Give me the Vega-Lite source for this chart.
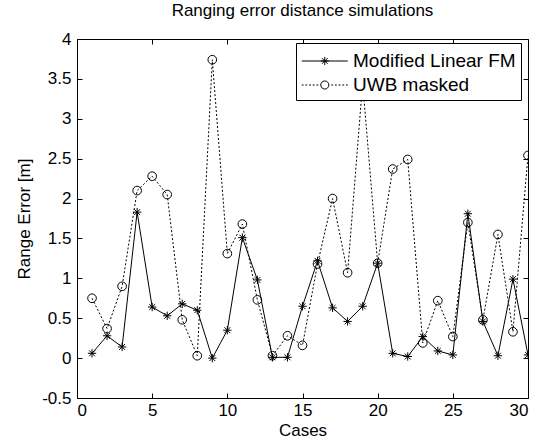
{
  "$schema": "https://vega.github.io/schema/vega-lite/v6.json",
  "width": 451,
  "height": 359,
  "autosize": "none",
  "padding": {"left": 77, "top": 39, "right": 22, "bottom": 44},
  "background": "white",
  "title": {"text": "Ranging error distance simulations", "font": "Liberation Sans", "fontSize": 17, "fontWeight": "normal", "color": "black", "offset": 10},
  "config": {
    "view": {"stroke": "black", "strokeWidth": 1},
    "axis": {"grid": false, "domainColor": "black", "tickColor": "black", "labelColor": "black", "titleColor": "black", "labelFont": "Liberation Sans", "titleFont": "Liberation Sans", "labelFontSize": 17, "titleFontSize": 17, "titleFontWeight": "normal", "tickSize": 5, "domainWidth": 1, "tickWidth": 1}
  },
  "data": {"values": [
    {"case": 1, "series": "Modified Linear FM", "value": 0.06},
    {"case": 2, "series": "Modified Linear FM", "value": 0.28},
    {"case": 3, "series": "Modified Linear FM", "value": 0.14},
    {"case": 4, "series": "Modified Linear FM", "value": 1.83},
    {"case": 5, "series": "Modified Linear FM", "value": 0.64},
    {"case": 6, "series": "Modified Linear FM", "value": 0.53},
    {"case": 7, "series": "Modified Linear FM", "value": 0.68},
    {"case": 8, "series": "Modified Linear FM", "value": 0.60},
    {"case": 9, "series": "Modified Linear FM", "value": 0.00},
    {"case": 10, "series": "Modified Linear FM", "value": 0.35},
    {"case": 11, "series": "Modified Linear FM", "value": 1.51},
    {"case": 12, "series": "Modified Linear FM", "value": 0.98},
    {"case": 13, "series": "Modified Linear FM", "value": 0.01},
    {"case": 14, "series": "Modified Linear FM", "value": 0.01},
    {"case": 15, "series": "Modified Linear FM", "value": 0.65},
    {"case": 16, "series": "Modified Linear FM", "value": 1.22},
    {"case": 17, "series": "Modified Linear FM", "value": 0.63},
    {"case": 18, "series": "Modified Linear FM", "value": 0.46},
    {"case": 19, "series": "Modified Linear FM", "value": 0.65},
    {"case": 20, "series": "Modified Linear FM", "value": 1.19},
    {"case": 21, "series": "Modified Linear FM", "value": 0.06},
    {"case": 22, "series": "Modified Linear FM", "value": 0.02},
    {"case": 23, "series": "Modified Linear FM", "value": 0.27},
    {"case": 24, "series": "Modified Linear FM", "value": 0.09},
    {"case": 25, "series": "Modified Linear FM", "value": 0.04},
    {"case": 26, "series": "Modified Linear FM", "value": 1.81},
    {"case": 27, "series": "Modified Linear FM", "value": 0.46},
    {"case": 28, "series": "Modified Linear FM", "value": 0.03},
    {"case": 29, "series": "Modified Linear FM", "value": 0.99},
    {"case": 30, "series": "Modified Linear FM", "value": 0.04},
    {"case": 1, "series": "UWB masked", "value": 0.75},
    {"case": 2, "series": "UWB masked", "value": 0.37},
    {"case": 3, "series": "UWB masked", "value": 0.90},
    {"case": 4, "series": "UWB masked", "value": 2.10},
    {"case": 5, "series": "UWB masked", "value": 2.28},
    {"case": 6, "series": "UWB masked", "value": 2.05},
    {"case": 7, "series": "UWB masked", "value": 0.48},
    {"case": 8, "series": "UWB masked", "value": 0.03},
    {"case": 9, "series": "UWB masked", "value": 3.74},
    {"case": 10, "series": "UWB masked", "value": 1.31},
    {"case": 11, "series": "UWB masked", "value": 1.68},
    {"case": 12, "series": "UWB masked", "value": 0.73},
    {"case": 13, "series": "UWB masked", "value": 0.03},
    {"case": 14, "series": "UWB masked", "value": 0.28},
    {"case": 15, "series": "UWB masked", "value": 0.16},
    {"case": 16, "series": "UWB masked", "value": 1.18},
    {"case": 17, "series": "UWB masked", "value": 2.00},
    {"case": 18, "series": "UWB masked", "value": 1.07},
    {"case": 19, "series": "UWB masked", "value": 3.45},
    {"case": 20, "series": "UWB masked", "value": 1.19},
    {"case": 21, "series": "UWB masked", "value": 2.37},
    {"case": 22, "series": "UWB masked", "value": 2.49},
    {"case": 23, "series": "UWB masked", "value": 0.19},
    {"case": 24, "series": "UWB masked", "value": 0.72},
    {"case": 25, "series": "UWB masked", "value": 0.27},
    {"case": 26, "series": "UWB masked", "value": 1.70},
    {"case": 27, "series": "UWB masked", "value": 0.48},
    {"case": 28, "series": "UWB masked", "value": 1.55},
    {"case": 29, "series": "UWB masked", "value": 0.33},
    {"case": 30, "series": "UWB masked", "value": 2.54}
  ]},
  "resolve": {"axis": {"x": "independent", "y": "independent"}},
  "layer": [
    {
      "transform": [{"filter": "datum.series === 'Modified Linear FM'"}],
      "mark": {"type": "line", "color": "black", "strokeWidth": 1, "clip": true},
      "encoding": {
        "x": {"field": "case", "type": "quantitative", "scale": {"domain": [0, 30], "nice": false}, "axis": {"values": [0, 5, 10, 15, 20, 25, 30], "ticks": false, "title": "Cases", "labelPadding": 4, "titlePadding": 4}},
        "y": {"field": "value", "type": "quantitative", "scale": {"domain": [-0.5, 4], "nice": false, "zero": false}, "axis": {"values": [-0.5, 0, 0.5, 1, 1.5, 2, 2.5, 3, 3.5, 4], "ticks": false, "labelExpr": "'' + datum.value", "title": "Range Error [m]", "labelPadding": 6, "titlePadding": 8}}
      }
    },
    {
      "transform": [{"filter": "datum.series === 'UWB masked'"}],
      "mark": {"type": "line", "color": "black", "strokeWidth": 1, "strokeDash": [2, 2], "clip": true},
      "encoding": {
        "x": {"field": "case", "type": "quantitative", "axis": null},
        "y": {"field": "value", "type": "quantitative", "axis": null}
      }
    },
    {
      "transform": [{"filter": "datum.series === 'Modified Linear FM'"}],
      "mark": {"type": "point", "filled": false, "color": "black", "strokeWidth": 1, "opacity": 1, "size": 70, "shape": "M-1,0L1,0M0,-1L0,1M-0.7,-0.7L0.7,0.7M-0.7,0.7L0.7,-0.7", "clip": true},
      "encoding": {
        "x": {"field": "case", "type": "quantitative", "axis": {"orient": "bottom", "offset": -5, "domain": false, "values": [0, 5, 10, 15, 20, 25, 30], "labels": false, "title": null}},
        "y": {"field": "value", "type": "quantitative", "axis": {"orient": "left", "offset": -5, "domain": false, "values": [-0.5, 0, 0.5, 1, 1.5, 2, 2.5, 3, 3.5, 4], "labels": false, "title": null}}
      }
    },
    {
      "transform": [{"filter": "datum.series === 'UWB masked'"}],
      "mark": {"type": "point", "filled": false, "color": "black", "strokeWidth": 1, "opacity": 1, "size": 75, "shape": "circle", "clip": true},
      "encoding": {
        "x": {"field": "case", "type": "quantitative", "axis": {"orient": "top", "offset": -5, "domain": false, "values": [0, 5, 10, 15, 20, 25, 30], "labels": false, "title": null}},
        "y": {"field": "value", "type": "quantitative", "axis": {"orient": "right", "offset": -5, "domain": false, "values": [-0.5, 0, 0.5, 1, 1.5, 2, 2.5, 3, 3.5, 4], "labels": false, "title": null}}
      }
    },
    {
      "mark": {"type": "point", "filled": false, "color": "black", "strokeWidth": 1, "size": 0},
      "encoding": {
        "x": {"field": "case", "type": "quantitative", "axis": null},
        "y": {"field": "value", "type": "quantitative", "axis": null},
        "shape": {"field": "series", "type": "nominal", "scale": {"domain": ["Modified Linear FM", "UWB masked"], "range": [
            "M-1,0L2.76,0M0.88,-0.33L0.88,0.33M0.55,0L1.21,0M0.65,-0.23L1.11,0.23M0.65,0.23L1.11,-0.23",
            "M-1,0L-0.85,0M-0.7,0L-0.55,0M-0.4,0L-0.25,0M-0.1,0L0.05,0M0.2,0L0.35,0M1.41,0L1.56,0M1.71,0L1.86,0M2.01,0L2.16,0M2.31,0L2.46,0M2.61,0L2.76,0M1.21,0A0.33,0.33 0 1,1 0.55,0A0.33,0.33 0 1,1 1.21,0"
          ]},
          "legend": {"title": null, "orient": "none", "legendX": 219, "legendY": 4, "padding": 5, "strokeColor": "black", "fillColor": "white", "cornerRadius": 0, "symbolSize": 600, "symbolStrokeWidth": 1, "symbolStrokeColor": "black", "symbolOpacity": 1, "labelFont": "Liberation Sans", "labelFontSize": 19, "labelColor": "black", "labelOffset": 26, "labelLimit": 400, "rowPadding": 1}
        }
      }
    }
  ]
}
